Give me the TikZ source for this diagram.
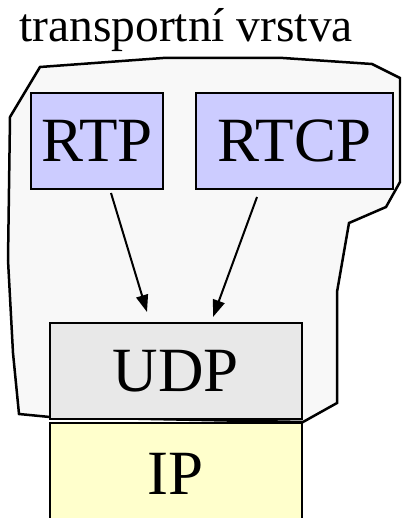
\documentclass[tikz,border=0pt]{standalone}
\usepackage{fontspec}
\setmainfont{Liberation Serif}
\usetikzlibrary{arrows.meta}
\tikzset{
  layer/.style={draw,line width=2.5pt,inner sep=0pt,font=\fontsize{63}{63}\selectfont},
  flow/.style={-{Triangle[length=17pt,width=12pt]},line width=2pt}
}
\begin{document}
\begin{tikzpicture}[x=1pt,y=-1pt]
            \clip (0,0) rectangle (401,518);
            \node[anchor=base west,inner sep=0pt,font=\fontsize{47.5}{47.5}\selectfont] (title) at (19,42){transportní vrstva};
            \draw[line width=2.5pt,fill={rgb,255:red,248;green,248;blue,248}] (40,67)--(163,58)--(283,58)--(372,64)--(400,78)--(400,182)--(386,207)--(349,223)--(337,292)--(337,403)--(303,422)--(50,417)--(19,414)--(13,353)--(8,260)--(10,117)--cycle;
            \node[layer,fill={rgb,255:red,204;green,204;blue,255},minimum width=132pt,minimum height=96pt] (rtp) at (97,141){RTP};
            \node[layer,fill={rgb,255:red,204;green,204;blue,255},minimum width=197pt,minimum height=96pt] (rtcp) at (294.5,141){RTCP};
            \node[layer,fill={rgb,255:red,232;green,232;blue,232},minimum width=252pt,minimum height=96pt] (udp) at (176,371){UDP};
            \node[layer,fill={rgb,255:red,255;green,255;blue,204},minimum width=252pt,minimum height=102pt] (ip) at (176,474){IP};
            \coordinate (rtpout) at (111,193);
            \coordinate (rtcpout) at (257,197);
            \coordinate (udpin1) at (147,312);
            \coordinate (udpin2) at (213,317);
            \draw[flow] (rtpout)--(udpin1);
            \draw[flow] (rtcpout)--(udpin2);
        \end{tikzpicture}
\end{document}
